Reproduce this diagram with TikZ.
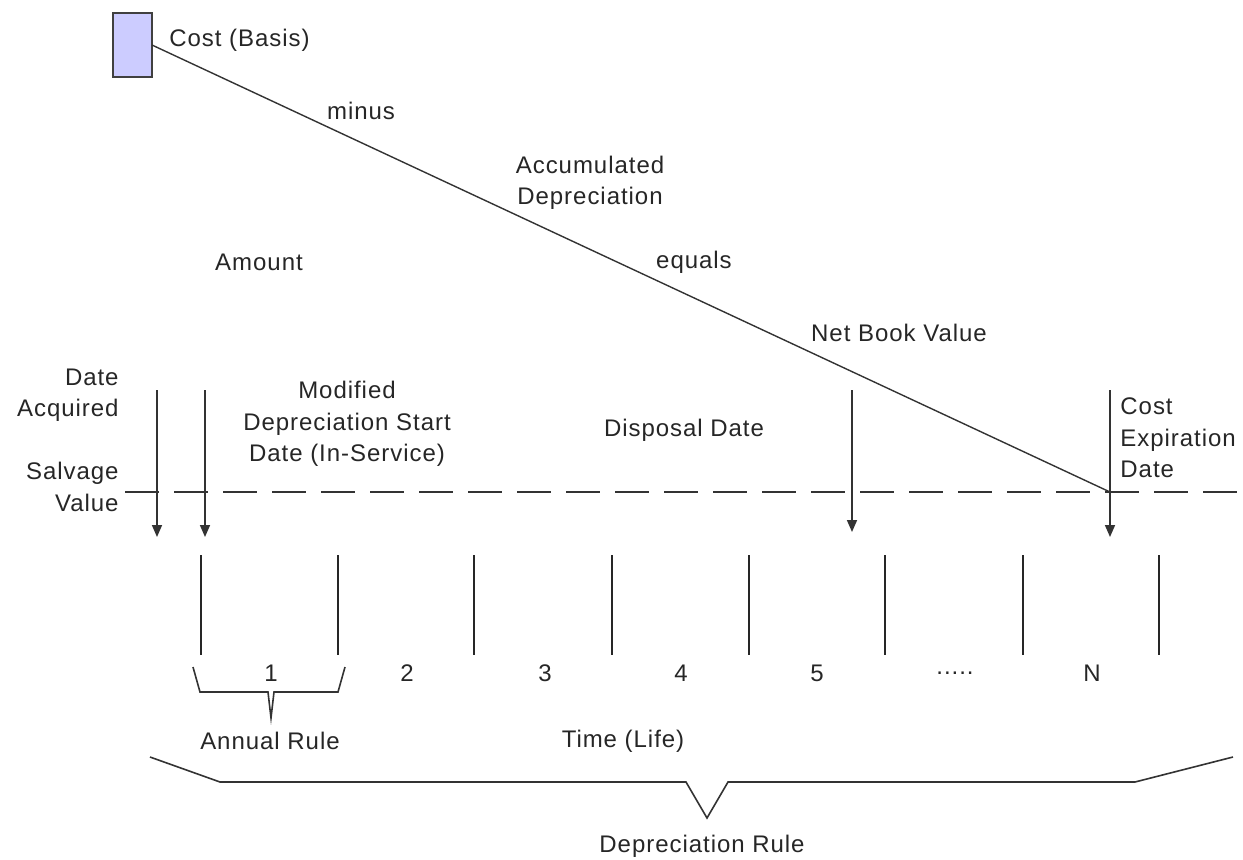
\documentclass[tikz,border=0pt]{standalone}
\usepackage{fontspec}
\setmainfont{Liberation Sans}[LetterSpace=4]
\usetikzlibrary{arrows.meta}
\tikzset{
    label/.style = {inner sep=0pt, text=black!85, font=\fontsize{12}{15.75}\selectfont},
    costbox/.style = {draw=black!75, fill=blue!20, line width=1pt},
    line/.style = {draw=black!80, line width=0.7pt},
    arrow/.style = {draw=black!80, line width=0.8pt, -{Triangle[length=6pt,width=5pt]}},
    salvage/.style = {draw=black!80, line width=0.8pt, dash pattern=on 17pt off 7.5pt},
    tick/.style = {draw=black!85, line width=0.7pt},
    brace/.style = {draw=black!80, line width=0.8pt}
}
\begin{document}
\begin{tikzpicture}[x=0.5pt, y=-0.5pt]
\useasboundingbox (0,0) rectangle (1243,859);
% cost box and the book value line
\draw [costbox] (113,13) rectangle (152,77);
\coordinate (costtop) at (152,45);
\coordinate (costend) at (1110,492);
\draw [line] (costtop) -- (costend);
\coordinate (salvL) at (125,492);
\coordinate (salvR) at (1243,492);
\draw [salvage] (salvL) -- (salvR);

\node (cost) [label, anchor=west] at (169,40) {Cost (Basis)};
\node (minus) [label] at (361,111) {minus};
\node (accum) [label, align=center] at (590,183) {Accumulated\\Depreciation};
\node (amount) [label] at (259,262) {Amount};
\node (equals) [label] at (694,262) {equals};
\node (nbv) [label] at (899,333) {Net Book Value};
\node (acq) [label, align=right, anchor=east] at (119,395) {Date\\Acquired};
\node (salv) [label, align=right, anchor=east] at (119,487) {Salvage\\Value};
\node (modif) [label, align=center] at (347,424) {Modified\\Depreciation Start\\Date (In-Service)};
\node (disp) [label] at (684,430) {Disposal Date};
\node (expir) [label, align=left, anchor=west] at (1120,438) {Cost\\Expiration\\Date};

% date arrows
\coordinate (a1) at (157,390);
\coordinate (a1e) at (157,537);
\coordinate (a2) at (205,390);
\coordinate (a2e) at (205,537);
\coordinate (a3) at (852,390);
\coordinate (a3e) at (852,532);
\coordinate (a4) at (1110,390);
\coordinate (a4e) at (1110,537);
\draw [arrow] (a1) -- (a1e);
\draw [arrow] (a2) -- (a2e);
\draw [arrow] (a3) -- (a3e);
\draw [arrow] (a4) -- (a4e);

% periods
\foreach \x in {201,338,474,612,749,885,1023,1159}
    \draw [tick] (\x,555) -- (\x,655);
\node (p1) [label] at (271,673) {1};
\node (p2) [label] at (407,673) {2};
\node (p3) [label] at (545,673) {3};
\node (p4) [label] at (681,673) {4};
\node (p5) [label] at (817,673) {5};
\node (pdots) [label] at (955,673) {.....};
\node (pN) [label] at (1092,673) {N};

% annual rule brace
\draw [brace] (193,667) -- (200,692) -- (268,692) -- (271,718) -- (274,692) -- (338,692) -- (345,667);
\node (annual) [label] at (270,741) {Annual Rule};
\node (life) [label] at (623,741) {Time (Life)};

% depreciation rule brace
\draw [brace] (150,757) -- (220,782) -- (686,782) -- (707,818) -- (728,782) -- (1135,782) -- (1233,757);
\node (deprule) [label] at (702,846) {Depreciation Rule};
\end{tikzpicture}
\end{document}
